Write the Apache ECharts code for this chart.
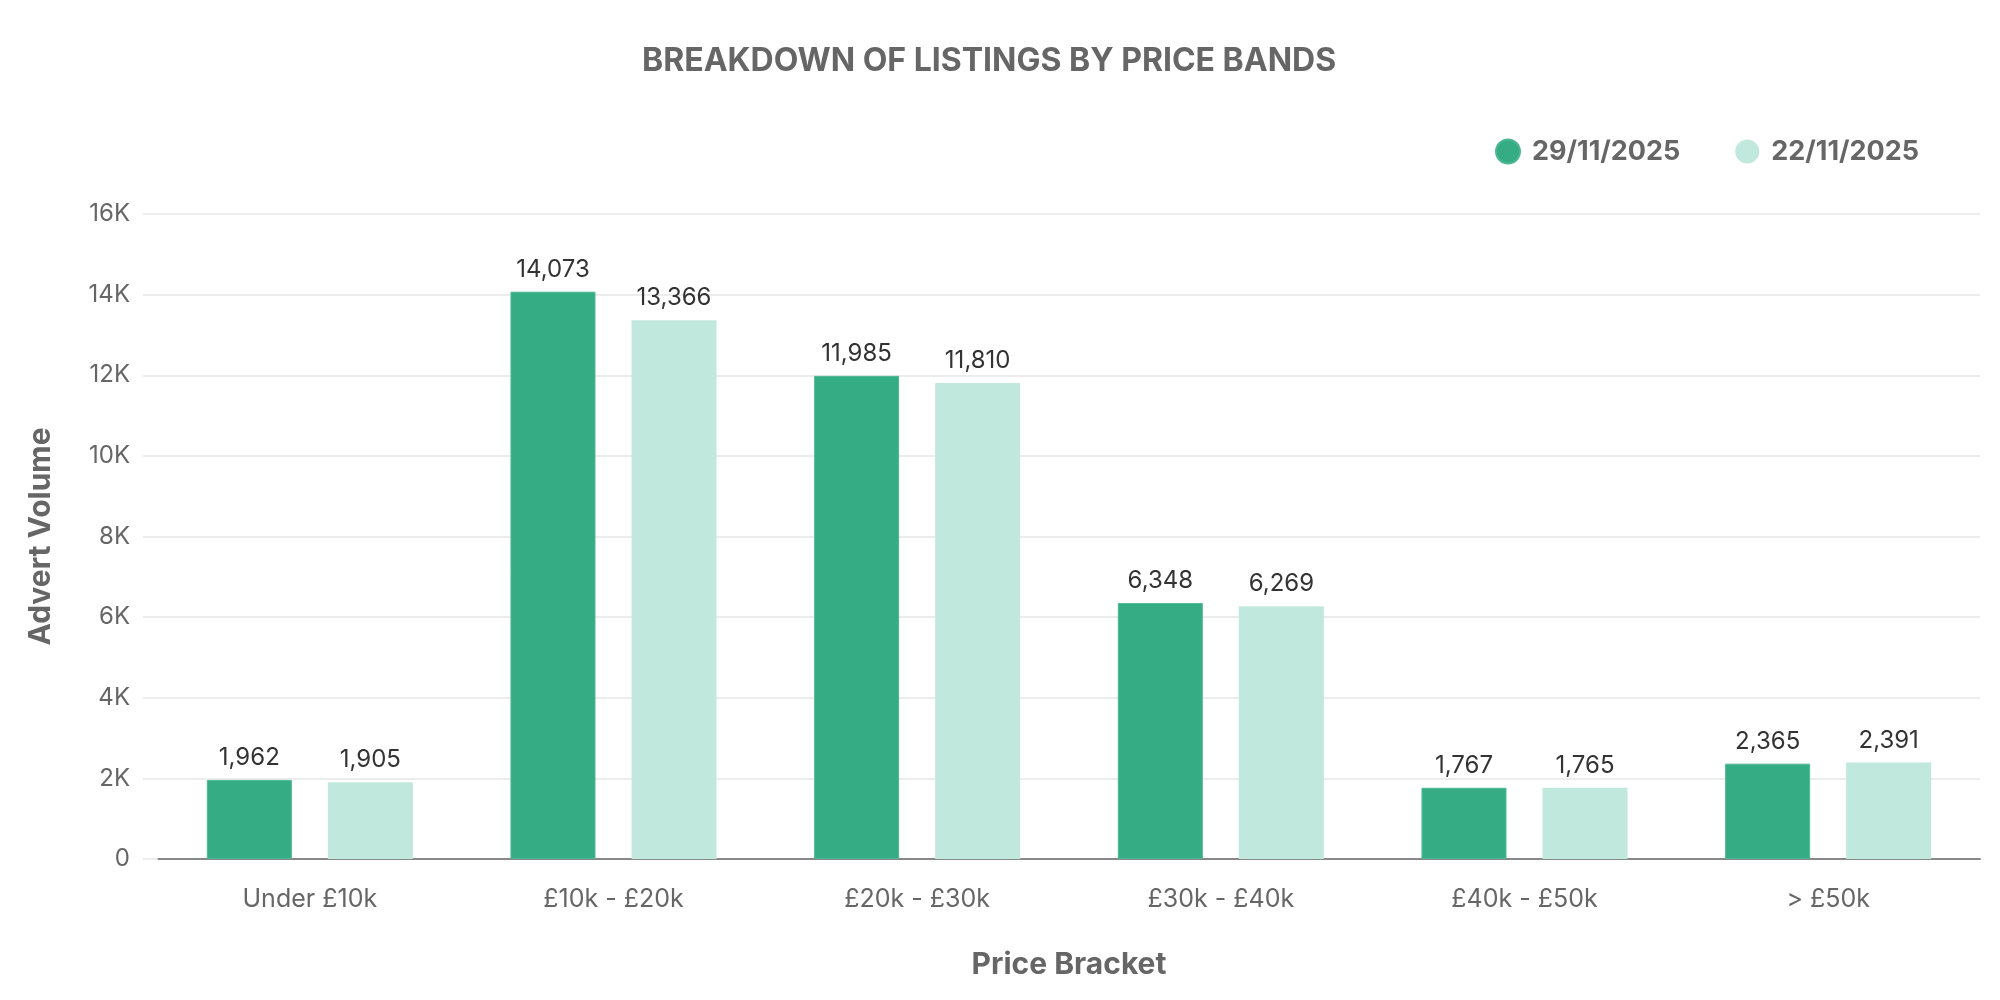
<!DOCTYPE html>
<html>
<head>
<meta charset="utf-8">
<script src="https://cdn.jsdelivr.net/npm/echarts@6/dist/echarts.min.js"></script>
<style>html,body{margin:0;padding:0;background:#fff}#main{width:2000px;height:1000px}</style>
</head>
<body>
<div id="main"></div>
<script>
const categories = ['Under £10k', '£10k - £20k', '£20k - £30k', '£30k - £40k', '£40k - £50k', '> £50k'];
const seriesNames = ['29/11/2025', '22/11/2025'];
const values2911 = [1962, 14073, 11985, 6348, 1767, 2365];
const values2211 = [1905, 13366, 11810, 6269, 1765, 2391];

const chart = echarts.init(document.getElementById('main'), null, {renderer: 'canvas'});
const FONT = 'Inter';
const labelCfg = {
  show: true, position: 'top', distance: 10,
  fontFamily: FONT, fontSize: 24, color: '#333',
  formatter: p => p.value.toLocaleString('en-GB')
};
chart.setOption({
  animation: false,
  backgroundColor: '#fff',
  title: {
    text: 'BREAKDOWN OF LISTINGS BY PRICE BANDS',
    left: 637, top: 40,
    textStyle: {fontFamily: FONT, fontSize: 32, fontWeight: 'bold', color: '#666'}
  },
  legend: {
    data: seriesNames,
    right: 76, top: 133,
    icon: 'circle', itemWidth: 24, itemHeight: 24, itemGap: 55,
    textStyle: {fontFamily: FONT, fontSize: 27, fontWeight: 'bold', color: '#666', padding: [0, 0, 0, 7]}
  },
  grid: {left: 158, right: 20, top: 214, bottom: 141},
  xAxis: {
    type: 'category', data: categories,
    name: 'Price Bracket', nameLocation: 'middle', nameGap: 91,
    nameTextStyle: {fontFamily: FONT, fontSize: 30, fontWeight: 'bold', color: '#666'},
    axisLine: {show: true, lineStyle: {color: '#888', width: 2}},
    axisTick: {show: false},
    axisLabel: {fontFamily: FONT, fontSize: 25, color: '#666', margin: 28}
  },
  yAxis: {
    type: 'value', min: 0, max: 16000, interval: 2000,
    name: 'Advert Volume', nameLocation: 'middle', nameGap: 102, nameRotate: 90,
    nameTextStyle: {fontFamily: FONT, fontSize: 30, fontWeight: 'bold', color: '#666'},
    axisLine: {show: false},
    axisTick: {show: true, length: 15, lineStyle: {color: '#e6e6e6', width: 1.5}},
    splitLine: {lineStyle: {color: '#e6e6e6', width: 1.5}},
    axisLabel: {fontFamily: FONT, fontSize: 24, color: '#666', margin: 28,
      formatter: v => v === 0 ? '0' : (v / 1000) + 'K'}
  },
  series: [
    {name: seriesNames[0], type: 'bar', data: values2911, barWidth: 85, barGap: '42.4%',
     itemStyle: {color: '#36ac84', borderColor: '#4cb892', borderWidth: 1}, label: labelCfg},
    {name: seriesNames[1], type: 'bar', data: values2211, barWidth: 85,
     itemStyle: {color: '#c0e8dc'}, label: labelCfg}
  ]
});
</script>
</body>
</html>
